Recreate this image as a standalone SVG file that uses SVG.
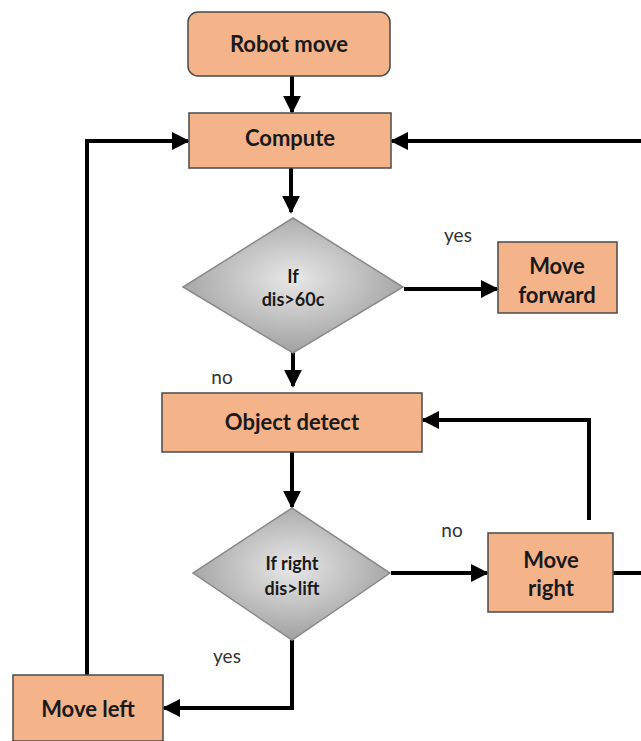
<svg xmlns="http://www.w3.org/2000/svg" width="641" height="741" viewBox="0 0 641 741">
<style>
.box{fill:#F5B38A;stroke:#4a4a4a;stroke-width:1.5}
.dia{fill:url(#g);stroke:#8a8a8a;stroke-width:1.5}
.t{font-family:Lato,"Open Sans","Liberation Sans",sans-serif;font-weight:bold;font-size:22px;fill:#1a1a1a;text-anchor:middle}
.td{font-family:Lato,"Open Sans","Liberation Sans",sans-serif;font-weight:bold;font-size:18px;fill:#1a1a1a;text-anchor:middle}
.lb{font-family:Lato,"Open Sans","Liberation Sans",sans-serif;font-size:19px;fill:#333;text-anchor:middle}
.c{fill:none;stroke:#000;stroke-width:4}
</style>
<defs>
<radialGradient id="g" cx="50%" cy="45%" r="60%">
<stop offset="0" stop-color="#e8e8e8"/>
<stop offset="1" stop-color="#9a9a9a"/>
</radialGradient>
<marker id="a" viewBox="0 0 10 10" refX="9" refY="5" markerWidth="4.5" markerHeight="4.5" orient="auto" markerUnits="strokeWidth">
<path d="M0,0 L10,5 L0,10 z" fill="#000"/>
</marker>
</defs>
<g id="connectors">
<path class="c" d="M292,76 V112" marker-end="url(#a)"/>
<path class="c" d="M291,168 V212" marker-end="url(#a)"/>
<path class="c" d="M404,289 H497" marker-end="url(#a)"/>
<path class="c" d="M293,343 V386" marker-end="url(#a)"/>
<path class="c" d="M292,452 V507" marker-end="url(#a)"/>
<path class="c" d="M391,573 H487" marker-end="url(#a)"/>
<path class="c" d="M613,573 H641"/>
<path class="c" d="M589,520 V420 H423" marker-end="url(#a)"/>
<path class="c" d="M292,640 V708 H164" marker-end="url(#a)"/>
<path class="c" d="M87,675 V141 H188" marker-end="url(#a)"/>
<path class="c" d="M641,141 H392" marker-end="url(#a)"/>
</g>
<g id="robot-move"><rect class="box" x="188" y="12" width="202" height="64" rx="10"/><text class="t" x="289" y="52">Robot move</text></g>
<g id="compute"><rect class="box" x="189" y="113" width="202" height="55"/><text class="t" x="290" y="146">Compute</text></g>
<g id="if-dis"><polygon class="dia" points="293,218 403,287 293,353 183,287"/><text class="td" x="293" y="283">If</text><text class="td" x="293" y="306">dis&gt;60c</text></g>
<g id="move-forward"><rect class="box" x="498" y="242" width="119" height="71"/><text class="t" x="557" y="274">Move</text><text class="t" x="557" y="303">forward</text></g>
<g id="object-detect"><rect class="box" x="162" y="393" width="260" height="59"/><text class="t" x="292" y="430">Object detect</text></g>
<g id="if-right"><polygon class="dia" points="292,508 390,573 292,640 193,573"/><text class="td" x="292" y="570">If right</text><text class="td" x="292" y="595">dis&gt;lift</text></g>
<g id="move-right"><rect class="box" x="488" y="533" width="125" height="79"/><text class="t" x="551" y="568">Move</text><text class="t" x="551" y="596">right</text></g>
<g id="move-left"><rect class="box" x="13" y="675" width="150" height="66"/><text class="t" x="88" y="717">Move left</text></g>
<g id="labels">
<text class="lb" x="458" y="242">yes</text>
<text class="lb" x="222" y="384">no</text>
<text class="lb" x="452" y="537">no</text>
<text class="lb" x="227" y="663">yes</text>
</g>
</svg>
